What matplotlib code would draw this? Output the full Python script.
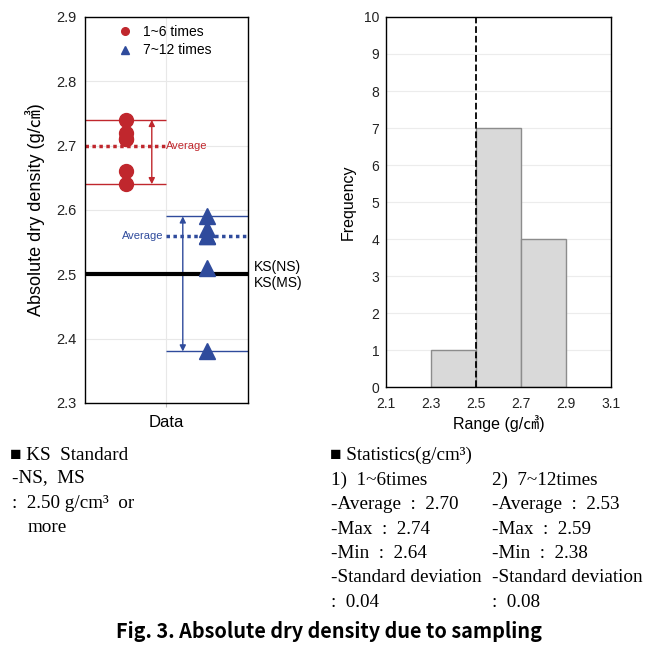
import numpy as np
import matplotlib
matplotlib.use('Agg')
import matplotlib.pyplot as plt

plt.rcParams['font.family'] = ['Liberation Sans', 'Noto Sans CJK KR', 'DejaVu Sans']

# data
times_1_6 = [2.74, 2.72, 2.71, 2.71, 2.66, 2.64]
times_7_12 = [2.59, 2.57, 2.56, 2.56, 2.51, 2.38]
avg_1_6 = 2.70
avg_7_12 = 2.56
ks_standard = 2.50
hist_bins = [2.3, 2.5, 2.7, 2.9]

red = '#c0272d'
blue = '#2f4b9c'

fig = plt.figure(figsize=(6.58, 6.52), dpi=100)

# ---- left panel : scatter of densities
ax1 = fig.add_axes([0.129, 0.382, 0.248, 0.592])
ax1.set_xlim(0, 2)
ax1.set_ylim(2.3, 2.9)
ax1.set_yticks(np.arange(2.3, 2.91, 0.1))
ax1.set_yticklabels(['%.1f' % v for v in np.arange(2.3, 2.91, 0.1)])
ax1.set_xticks([1])
ax1.set_xticklabels([''])
ax1.grid(True, color='#e8e8e8', lw=0.8)
ax1.set_axisbelow(True)
ax1.tick_params(axis='y', length=0, labelsize=10.5, colors='#222222', pad=6)
ax1.tick_params(axis='x', length=3, color='#bbbbbb')
ax1.set_xlabel('Data', fontsize=12, labelpad=2)
ax1.set_ylabel('Absolute dry density (g/㎤)', fontsize=13, labelpad=8)

# red group
ax1.plot([0.5] * len(times_1_6), times_1_6, 'o', color=red, ms=10, label='1~6 times', zorder=4)
ax1.hlines([max(times_1_6), min(times_1_6)], 0, 1, color=red, lw=1)
ax1.hlines(avg_1_6, 0, 1, color=red, lw=2.5, linestyles=(0, (1, 1)))
ax1.annotate('', xy=(0.82, max(times_1_6)), xytext=(0.82, min(times_1_6)),
             arrowprops=dict(arrowstyle='<|-|>', color=red, lw=1, shrinkA=0, shrinkB=0,
                             mutation_scale=9))
ax1.text(1.0, avg_1_6, 'Average', color=red, fontsize=8, va='center', ha='left')

# blue group
ax1.plot([1.5] * len(times_7_12), times_7_12, '^', color=blue, ms=11, label='7~12 times', zorder=4)
ax1.hlines([max(times_7_12), min(times_7_12)], 1, 2, color=blue, lw=1)
ax1.hlines(avg_7_12, 1, 2, color=blue, lw=2.5, linestyles=(0, (1, 1)))
ax1.annotate('', xy=(1.2, max(times_7_12)), xytext=(1.2, min(times_7_12)),
             arrowprops=dict(arrowstyle='<|-|>', color=blue, lw=1, shrinkA=0, shrinkB=0,
                             mutation_scale=9))
ax1.text(0.96, avg_7_12, 'Average', color=blue, fontsize=8, va='center', ha='right')

# KS line
ax1.axhline(ks_standard, color='black', lw=3, zorder=3)
ax1.text(2.07, ks_standard + 0.012, 'KS(NS)', fontsize=10, va='center', clip_on=False)
ax1.text(2.07, ks_standard - 0.014, 'KS(MS)', fontsize=10, va='center', clip_on=False)

leg = ax1.legend(loc='upper center', frameon=False, fontsize=10, handletextpad=0.3,
                 borderaxespad=0.2, labelspacing=0.3, markerscale=0.55,
                 bbox_to_anchor=(0.47, 1.0))

for s in ax1.spines.values():
    s.set_color('black')
    s.set_linewidth(1)

# ---- right panel : histogram
ax2 = fig.add_axes([0.587, 0.406, 0.342, 0.568])
all_vals = times_1_6 + times_7_12
ax2.hist(all_vals, bins=hist_bins, color='#d9d9d9', edgecolor='#8c8c8c', lw=1, zorder=2)
ax2.axvline(ks_standard, color='black', ls='--', lw=1.3, zorder=3)
ax2.set_xlim(2.1, 3.1)
ax2.set_ylim(0, 10)
ax2.set_xticks(np.arange(2.1, 3.11, 0.2))
ax2.set_xticklabels(['%.1f' % v for v in np.arange(2.1, 3.11, 0.2)])
ax2.set_yticks(range(0, 11))
ax2.grid(True, axis='y', color='#ececec', lw=0.8)
ax2.set_axisbelow(True)
ax2.tick_params(axis='y', length=0, labelsize=10, colors='#222222', pad=5)
ax2.tick_params(axis='x', length=0, labelsize=10, colors='#222222', pad=7)
ax2.set_xlabel('Range (g/㎤)', fontsize=11.5, labelpad=3)
ax2.set_ylabel('Frequency', fontsize=11.5, labelpad=6)
for s in ax2.spines.values():
    s.set_color('black')
    s.set_linewidth(1)

# ---- text block below
serif = ['Liberation Serif', 'DejaVu Serif']
fs = 13.8

def put(x, y, s):
    fig.text(x / 658, 1 - y / 652, s, family=serif, fontsize=fs, va='center', ha='left')

put(10, 455, '■ KS  Standard')
put(12, 478, '-NS,  MS')
put(12, 503, ':  2.50 g/cm³  or')
put(28, 527, 'more')

put(330, 455, '■ Statistics(g/cm³)')
col1 = ['1)  1~6times', '-Average  :  2.70', '-Max  :  2.74', '-Min  :  2.64',
        '-Standard deviation', ':  0.04']
col2 = ['2)  7~12times', '-Average  :  2.53', '-Max  :  2.59', '-Min  :  2.38',
        '-Standard deviation', ':  0.08']
for i, (a, b) in enumerate(zip(col1, col2)):
    put(331, 480 + i * 24.5, a)
    put(492, 480 + i * 24.5, b)

fig.text(0.5, 1 - 632 / 652, 'Fig. 3. Absolute dry density due to sampling',
         family=['Noto Sans CJK KR', 'DejaVu Sans'], weight='bold', fontsize=14.3,
         ha='center', va='center')

fig.savefig('out.png', dpi=100)
